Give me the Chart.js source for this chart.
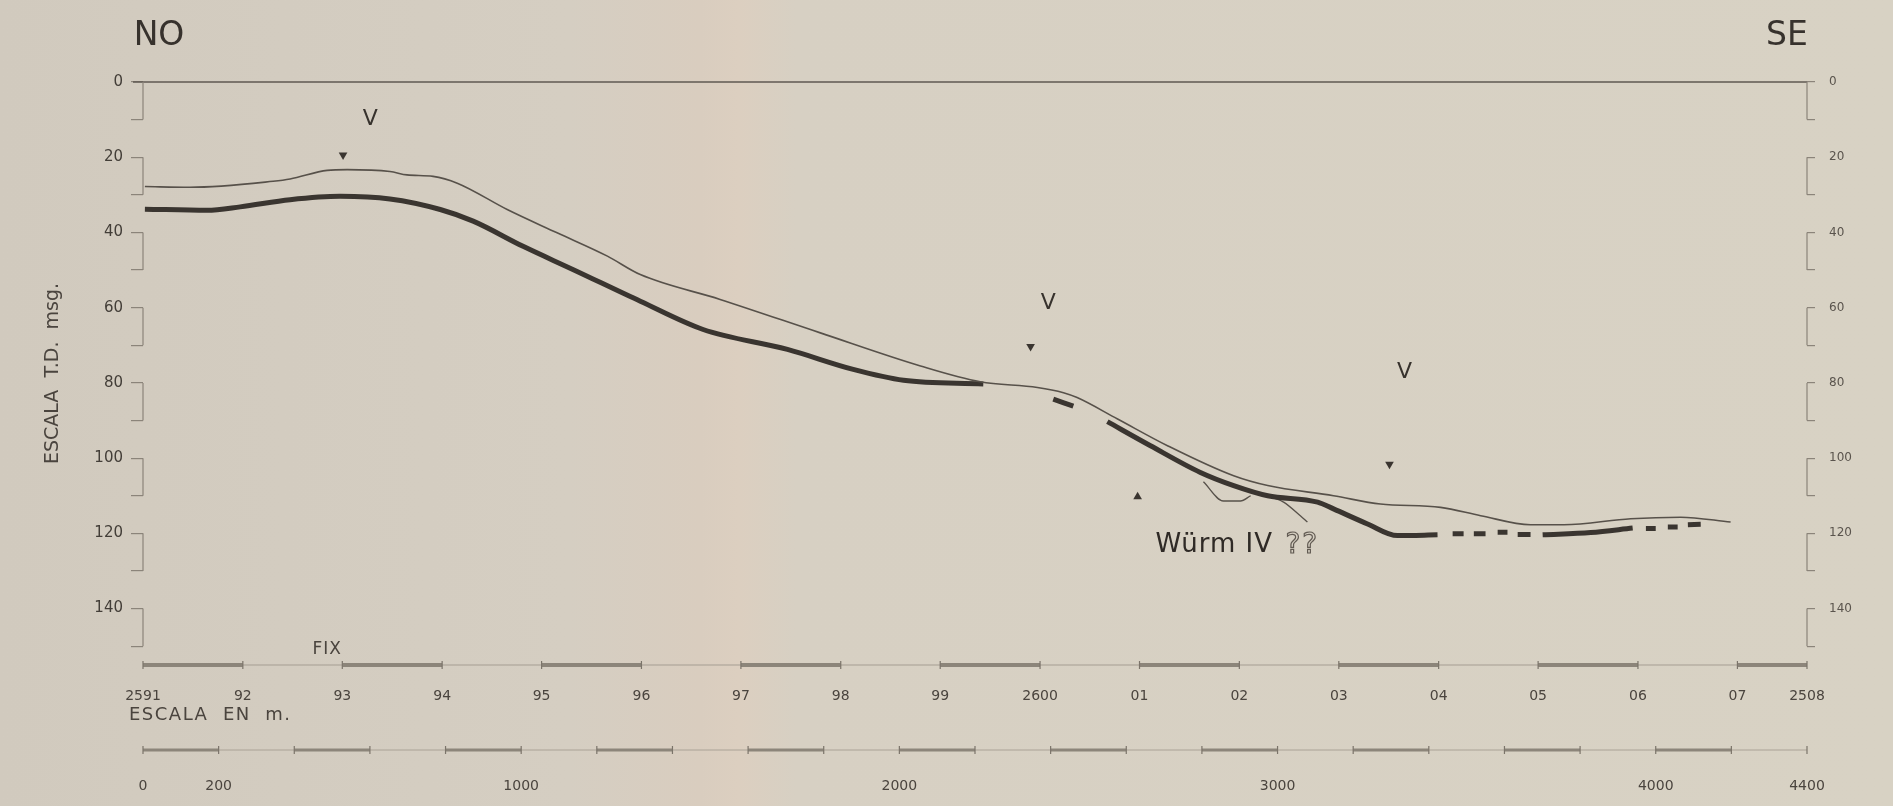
<!DOCTYPE html>
<html>
<head>
<meta charset="utf-8">
<script src="https://cdn.jsdelivr.net/npm/chart.js@4.4.1/dist/chart.umd.min.js"></script>
<style>
  html, body { margin: 0; padding: 0; }
  body {
    width: 1893px; height: 806px; overflow: hidden;
    background: linear-gradient(90deg, #d1cabe 0%, #d5cec2 30%, #d9cdbf 37%, #dccfc0 39%, #d7d0c3 42%, #d8d2c4 100%);
  }
  canvas { display: block; }
</style>
</head>
<body>
<canvas id="perfil" width="1893" height="806"></canvas>
<script>
// Distancia a lo largo del perfil (m) y tiempo doble (ms)
const fondoDist = [5, 124, 344, 389, 487, 540, 653, 698, 767, 831, 963, 1095, 1228, 1315, 1526, 1791, 2056, 2214, 2365, 2434, 2470, 2577, 2709, 2884, 2974, 3148, 3272, 3431, 3537, 3669, 3757, 3934, 4066, 4198];
const fondoTD   = [27.8, 28.0, 26.4, 25.8, 23.5, 23.3, 23.8, 24.7, 25.1, 26.9, 33.9, 40.1, 46.3, 51.2, 57.8, 66.7, 75.5, 79.7, 81.2, 82.6, 83.9, 89.6, 96.7, 104.7, 107.3, 110.0, 112.2, 113.1, 115.3, 117.7, 117.7, 116.1, 115.7, 117.0];

// Reflector principal; null = tramo interrumpido
const reflectorDist = [5, 169, 257, 389, 521, 653, 786, 873, 1005, 1138, 1315, 1481, 1704, 1878, 2011, 2222, 2300,
  2407, 2460, 2500,
  2550, 2664, 2796, 2884, 2974, 3106, 3148, 3238, 3317, 3423, 3440,
  3463, 3492, 3505, 3519, 3550, 3565, 3582, 3608, 3620, 3635, 3669, 3685,
  3701, 3828, 3939, 3955,
  3974, 4000, 4015, 4032, 4058, 4070, 4085, 4119];
const reflectorTD = [33.8, 34.1, 33.2, 31.3, 30.4, 31.1, 33.9, 37.0, 43.7, 49.9, 58.3, 65.8, 71.1, 76.4, 79.3, 80.3, null,
  84.3, 86.2, null,
  90.3, 96.7, 103.8, 107.3, 110.0, 111.7, 113.5, 117.5, 120.6, 120.4, null,
  120.1, 120.1, null, 120.1, 120.1, null, 119.7, 119.7, null, 120.3, 120.3, null,
  120.4, 119.8, 118.6, null,
  118.7, 118.7, null, 118.3, 118.3, null, 117.7, 117.6];

// Reflector secundario (Würm IV)
const wurmDist = [2804, 2857, 2902, 2929, 2950, 2974, 3016, 3061, 3079];
const wurmTD   = [106.3, 111.4, 111.4, 110.0, null, 110.0, 111.7, 115.4, 117.0];

// Marcas triangulares
const marcaDist = [529, 2347, 3296, 2630];
const marcaTD   = [19.4, 70.3, 101.6, 110.3];
const marcaGiro = [180, 180, 180, 0];

// Fixes de navegación
const fixDist   = [0, 264, 527, 791, 1054, 1318, 1581, 1845, 2108, 2372, 2635, 2899, 3162, 3426, 3689, 3953, 4216, 4400];
const fixLabels = ['2591', '92', '93', '94', '95', '96', '97', '98', '99', '2600', '01', '02', '03', '04', '05', '06', '07', '2508'];

// Escala gráfica en metros
const escalaValores = [0, 200, 1000, 2000, 3000, 4000, 4400];

const FONT = 'DejaVu Sans';
const INK = '#37322d';
const AXIS = '#8b847a';

const pts = (xs, ys) => xs.map((x, i) => ({ x, y: ys[i] }));

function texto(ctx, s, x, y, size, color, align, spacing) {
  ctx.save();
  ctx.font = size + 'px "' + FONT + '"';
  ctx.fillStyle = color;
  ctx.textAlign = align || 'center';
  ctx.textBaseline = 'middle';
  ctx.letterSpacing = spacing || '0px';
  ctx.fillText(s, x, y);
  ctx.restore();
}

const decoradoPerfil = {
  id: 'decoradoPerfil',
  beforeDatasetsDraw(chart) {
    const { ctx, chartArea: a, scales } = chart;
    const x = scales.x, y = scales.y;
    const seg = (x1, y1, x2, y2) => { ctx.beginPath(); ctx.moveTo(x1, y1); ctx.lineTo(x2, y2); ctx.stroke(); };
    ctx.save();
    ctx.lineCap = 'butt';

    // nivel cero
    ctx.strokeStyle = '#5f5952';
    ctx.lineWidth = 1.6;
    seg(a.left - 10, y.getPixelForValue(0), a.right, y.getPixelForValue(0));

    // tramos alternos de las escalas verticales
    ctx.strokeStyle = AXIS;
    ctx.lineWidth = 1.2;
    for (let v = 0; v < 150; v += 20) {
      [a.left, a.right].forEach(px => seg(px, y.getPixelForValue(v), px, y.getPixelForValue(v + 10)));
    }

    // eje de fixes: tramos alternos gruesos y finos
    const yb = a.bottom;
    ctx.strokeStyle = '#a59d92';
    ctx.lineWidth = 1;
    seg(x.getPixelForValue(fixDist[0]), yb, x.getPixelForValue(fixDist[fixDist.length - 1]), yb);
    ctx.strokeStyle = '#8c857a';
    ctx.lineWidth = 4;
    for (let i = 0; i < fixDist.length - 1; i += 2) {
      seg(x.getPixelForValue(fixDist[i]), yb, x.getPixelForValue(fixDist[i + 1]), yb);
    }
    ctx.strokeStyle = '#7b746a';
    ctx.lineWidth = 1.2;
    fixDist.forEach(v => { const px = x.getPixelForValue(v); seg(px, yb - 4, px, yb + 4); });

    // escala gráfica
    const ye = 750;
    ctx.strokeStyle = '#aaa296';
    ctx.lineWidth = 1;
    seg(x.getPixelForValue(0), ye, x.getPixelForValue(4400), ye);
    ctx.strokeStyle = '#8c857a';
    ctx.lineWidth = 3;
    for (let v = 0; v < 4400; v += 400) {
      seg(x.getPixelForValue(v), ye, x.getPixelForValue(v + 200), ye);
    }
    ctx.strokeStyle = '#7b746a';
    ctx.lineWidth = 1.2;
    for (let v = 0; v <= 4400; v += 200) {
      const px = x.getPixelForValue(v);
      seg(px, ye - 4, px, ye + 4);
    }
    ctx.restore();
  },
  afterDraw(chart) {
    const { ctx, scales } = chart;
    const x = scales.x, y = scales.y;
    texto(ctx, 'NO', 159, 36, 33, INK);
    texto(ctx, 'SE', 1787, 36, 33, INK);

    [[601, 10.0], [2394, 58.8], [3336, 77.1]].forEach(([d, t]) =>
      texto(ctx, 'V', x.getPixelForValue(d), y.getPixelForValue(t), 22, INK));

    texto(ctx, 'FIX', x.getPixelForValue(487), y.getPixelForValue(151), 17, '#4a443e', 'center', '1px');

    // Würm IV ??
    const wx = x.getPixelForValue(2677), wy = y.getPixelForValue(123.1);
    texto(ctx, 'Würm IV', wx, wy, 26, '#2f2a26', 'left', '1px');
    ctx.save();
    ctx.font = '28px "' + FONT + '"';
    ctx.textAlign = 'left';
    ctx.textBaseline = 'middle';
    ctx.letterSpacing = '2px';
    ctx.strokeStyle = '#625b53';
    ctx.lineWidth = 1.2;
    ctx.strokeText('??', wx + 130, wy + 1);
    ctx.restore();

    texto(ctx, 'ESCALA  EN  m.', x.getPixelForValue(0) - 14, 715, 18, '#4a443e', 'left', '1.5px');
    escalaValores.forEach(v => texto(ctx, String(v), x.getPixelForValue(v), 786, 14, '#4a443e'));
  }
};

new Chart(document.getElementById('perfil'), {
  type: 'line',
  data: {
    datasets: [
      {
        label: 'Fondo',
        data: pts(fondoDist, fondoTD),
        borderColor: '#57514a',
        borderWidth: 1.6,
        pointRadius: 0,
        cubicInterpolationMode: 'monotone',
        spanGaps: false
      },
      {
        label: 'Reflector',
        data: pts(reflectorDist, reflectorTD),
        borderColor: '#3a3530',
        borderWidth: 5,
        borderCapStyle: 'butt',
        pointRadius: 0,
        cubicInterpolationMode: 'monotone',
        spanGaps: false
      },
      {
        label: 'Würm IV',
        data: pts(wurmDist, wurmTD),
        borderColor: '#57514a',
        borderWidth: 1.3,
        pointRadius: 0,
        cubicInterpolationMode: 'monotone',
        spanGaps: false
      },
      {
        label: 'Marcas',
        type: 'scatter',
        data: pts(marcaDist, marcaTD),
        pointStyle: 'triangle',
        rotation: marcaGiro,
        pointRadius: 5,
        backgroundColor: '#3a3530',
        borderColor: '#3a3530',
        borderWidth: 0
      }
    ]
  },
  options: {
    responsive: false,
    animation: false,
    events: [],
    layout: { padding: { top: 82, left: 0, right: 0, bottom: 0 } },
    plugins: { legend: { display: false }, tooltip: { enabled: false } },
    scales: {
      x: {
        type: 'linear',
        position: 'bottom',
        min: 0,
        max: 4400,
        afterFit: s => { s.height = 141; },
        afterBuildTicks: s => { s.ticks = fixDist.map(v => ({ value: v })); },
        grid: { display: false },
        border: { display: false },
        ticks: {
          autoSkip: false,
          maxRotation: 0,
          padding: 15,
          color: '#4a443e',
          font: { family: FONT, size: 14 },
          callback: (v, i) => fixLabels[i]
        }
      },
      y: {
        type: 'linear',
        position: 'left',
        reverse: true,
        min: 0,
        max: 155,
        afterFit: s => { s.width = 143; },
        grid: { drawOnChartArea: false, tickLength: 12, color: AXIS, lineWidth: 1.2 },
        border: { display: false },
        ticks: {
          stepSize: 10,
          includeBounds: false,
          padding: 8,
          color: '#433e38',
          font: { family: FONT, size: 15 },
          callback: v => (v % 20 === 0 ? v : '')
        },
        title: {
          display: true,
          text: 'ESCALA  T.D.  msg.',
          color: '#4a443e',
          font: { family: FONT, size: 19 },
          padding: { top: 42, bottom: 0 }
        }
      },
      y2: {
        type: 'linear',
        position: 'right',
        reverse: true,
        min: 0,
        max: 155,
        afterFit: s => { s.width = 86; },
        grid: { drawOnChartArea: false, tickLength: 8, color: AXIS, lineWidth: 1.2 },
        border: { display: false },
        ticks: {
          stepSize: 10,
          includeBounds: false,
          padding: 14,
          color: '#5a544d',
          font: { family: FONT, size: 12 },
          callback: v => (v % 20 === 0 ? v : '')
        }
      }
    }
  },
  plugins: [decoradoPerfil]
});
</script>
</body>
</html>
